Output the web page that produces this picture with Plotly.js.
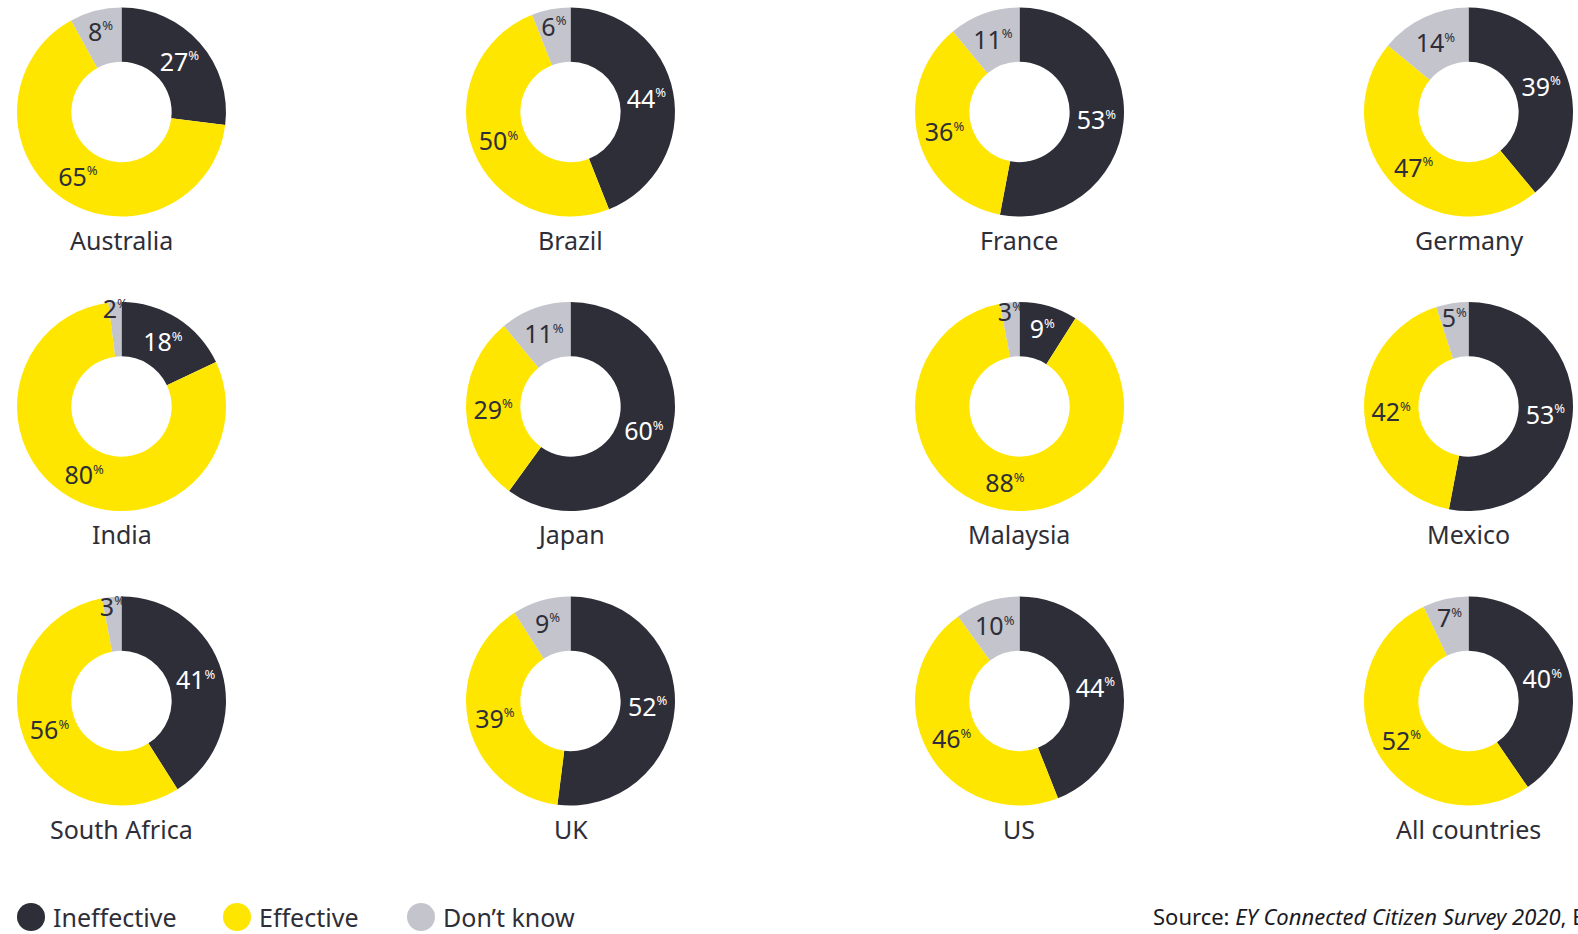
<!DOCTYPE html>
<html>
<head>
<meta charset="utf-8">
<script src="https://cdn.plot.ly/plotly-3.0.1.min.js"></script>
<style>
html,body{margin:0;padding:0;background:#fff;}
#chart{width:1578px;height:934px;}
</style>
</head>
<body>
<div id="chart"></div>
<script>
// ---- Data ----
const categories = ['Ineffective', 'Effective', "Don\u2019t know"];
const countries = ['Australia','Brazil','France','Germany','India','Japan','Malaysia','Mexico','South Africa','UK','US','All countries'];
const ineffective = [27, 44, 53, 39, 18, 60, 9, 53, 41, 52, 44, 40];
const effective   = [65, 50, 36, 47, 80, 29, 88, 42, 56, 39, 46, 52];
const dontKnow    = [8, 6, 11, 14, 2, 11, 3, 5, 3, 9, 10, 7];

// ---- Style ----
const W = 1578, H = 934;
const colors = ['#2e2e38', '#ffe600', '#c4c4cd'];
const textColors = ['#ffffff', '#2e2e38', '#2e2e38'];
const FONT = '"Noto Sans", "Open Sans", sans-serif';
const cols = 4;
const x0 = 121.5, dx = 449, y0 = 112, dy = 294.5, R = 104.5;

const px = v => v / W;
const py = v => 1 - v / H;

const traces = [];
const annotations = [];
countries.forEach((c, i) => {
  const col = i % cols, row = Math.floor(i / cols);
  const cx = x0 + dx * col, cy = y0 + dy * row;
  traces.push({
    type: 'pie',
    labels: categories,
    values: [ineffective[i], effective[i], dontKnow[i]],
    sort: false,
    direction: 'clockwise',
    rotation: 0,
    hole: 0.48,
    marker: {colors: colors, line: {width: 0}},
    textinfo: 'none',
    texttemplate: '%{value}<sup><span style="font-size:13px">%</span></sup>',
    textposition: 'inside',
    insidetextorientation: 'horizontal',
    textfont: {family: FONT, size: 25, color: textColors},
    showlegend: false,
    hoverinfo: 'label+value',
    domain: {x: [px(cx - R), px(cx + R)], y: [py(cy + R), py(cy - R)]}
  });
  annotations.push({
    text: c, xref: 'paper', yref: 'paper',
    x: px(cx), y: py(cy + 127.5), xanchor: 'center', yanchor: 'middle',
    showarrow: false, font: {family: FONT, size: 25, color: '#2e2e38'}
  });
});

// ---- Legend (custom) ----
const legendX = [31, 237, 421];
const legendTextX = [51, 257, 441];
const legendY = 917;
const shapes = [];
categories.forEach((c, k) => {
  shapes.push({
    type: 'circle', xref: 'paper', yref: 'paper',
    x0: px(legendX[k] - 14), x1: px(legendX[k] + 14),
    y0: py(legendY + 14), y1: py(legendY - 14),
    fillcolor: colors[k], line: {width: 0}
  });
  annotations.push({
    text: c, xref: 'paper', yref: 'paper',
    x: px(legendTextX[k]), y: py(legendY), xanchor: 'left', yanchor: 'middle',
    showarrow: false, font: {family: FONT, size: 25, color: '#2e2e38'}
  });
});
annotations.push({
  text: 'Source: <i>EY Connected Citizen Survey 2020</i>, EY',
  xref: 'paper', yref: 'paper', x: px(1151), y: py(916),
  xanchor: 'left', yanchor: 'middle', showarrow: false,
  font: {family: FONT, size: 22, color: '#1a1a24'}
});

const layout = {
  width: W, height: H,
  margin: {l: 0, r: 0, t: 0, b: 0},
  paper_bgcolor: '#ffffff',
  uniformtext: {minsize: 25, mode: 'show'},
  annotations: annotations,
  shapes: shapes,
  showlegend: false
};

Plotly.newPlot('chart', traces, layout, {displayModeBar: false, staticPlot: true});
</script>
</body>
</html>
